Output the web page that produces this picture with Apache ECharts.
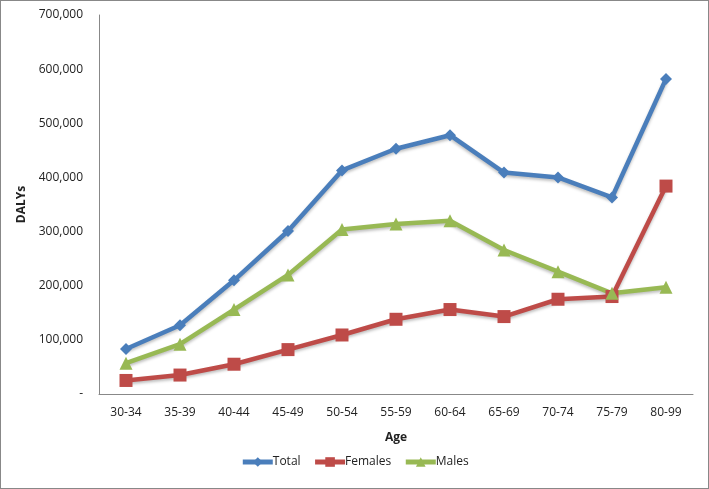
<!DOCTYPE html>
<html>
<head>
<meta charset="utf-8">
<script src="https://cdn.jsdelivr.net/npm/echarts@6/dist/echarts.min.js"></script>
<style>
  html, body { margin: 0; padding: 0; background: #fff; }
  #chart { width: 707px; height: 487px; border: 1px solid #888; }
</style>
</head>
<body>
<div id="chart"></div>
<script>
const ages = ['30-34', '35-39', '40-44', '45-49', '50-54', '55-59', '60-64', '65-69', '70-74', '75-79', '80-99']
const total = [83000, 127000, 210000, 301000, 413000, 453000, 478000, 409000, 400000, 363000, 582000]
const females = [25000, 35000, 55000, 82000, 109000, 138000, 156000, 143000, 175000, 180000, 384000]
const males = [57000, 92000, 156000, 220000, 304000, 314000, 320000, 266000, 226000, 186000, 197000]

const font = '"Open Sans", "Liberation Sans", sans-serif'
const textColor = '#222'

const chart = echarts.init(document.getElementById('chart'))

function lineSeries(name, data, color, symbol, size) {
  return {
    name,
    type: 'line',
    data,
    symbol,
    symbolSize: size,
    showSymbol: true,
    lineStyle: { color, width: 4.5, shadowColor: 'rgba(0,0,0,0.25)', shadowBlur: 3, shadowOffsetY: 2 },
    itemStyle: { color },
    emphasis: { disabled: true },
  }
}

chart.setOption({
  animation: false,
  backgroundColor: '#fff',
  textStyle: { fontFamily: font },
  grid: { left: 98, right: 15, top: 14, bottom: 94 },
  legend: {
    bottom: 15,
    left: 'center',
    itemWidth: 30,
    itemHeight: 12,
    itemGap: 12,
    itemStyle: { borderWidth: 0 },
    lineStyle: { width: 5 },
    textStyle: { fontFamily: font, fontSize: 12, color: textColor, padding: [0, 0, 0, -5] },
    data: ['Total', 'Females', 'Males'],
  },
  xAxis: {
    type: 'category',
    data: ages,
    boundaryGap: true,
    name: 'Age',
    nameLocation: 'middle',
    nameGap: 38,
    nameTextStyle: { fontFamily: font, fontWeight: 'bold', fontSize: 12, color: textColor },
    axisLine: { lineStyle: { color: '#888', width: 1 } },
    axisTick: { show: false },
    axisLabel: { color: textColor, fontSize: 12, fontFamily: font, margin: 13 },
  },
  yAxis: {
    type: 'value',
    min: 0,
    max: 700000,
    interval: 100000,
    name: 'DALYs',
    nameLocation: 'middle',
    nameGap: 68,
    nameTextStyle: { fontFamily: font, fontWeight: 'bold', fontSize: 12, color: textColor },
    axisLine: { show: true, lineStyle: { color: '#888', width: 1 } },
    axisTick: { show: false },
    splitLine: { show: false },
    axisLabel: {
      color: textColor,
      fontSize: 12,
      fontFamily: font,
      margin: 16,
      formatter: (v) => (v === 0 ? '-' : v.toLocaleString('en-US')),
    },
  },
  series: [
    lineSeries('Total', total, '#4a7ebb', 'diamond', 12),
    lineSeries('Females', females, '#be4b48', 'rect', 13),
    lineSeries('Males', males, '#98b954', 'triangle', 13),
  ],
})
</script>
</body>
</html>
